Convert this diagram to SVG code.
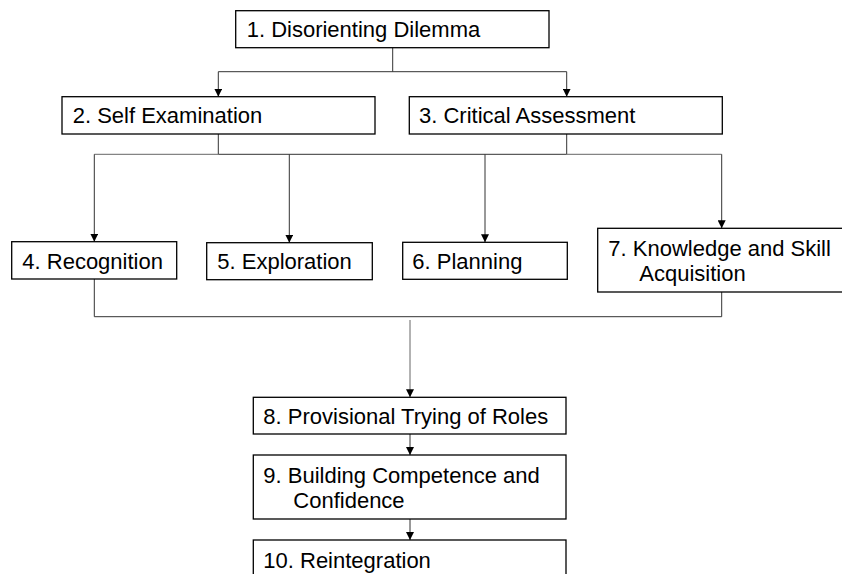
<svg xmlns="http://www.w3.org/2000/svg" width="842" height="574" viewBox="0 0 842 574">
<style>
.box{fill:#fff;stroke:#000;stroke-width:1.3}
.t{font-family:"Liberation Sans",Arial,sans-serif;font-size:22px;fill:#000}
.c{fill:none;stroke:#333;stroke-width:1}
.g{fill:none;stroke:#666;stroke-width:1}
</style>
<defs>
<marker id="ah" viewBox="0 0 10 10" refX="10" refY="5" markerWidth="8" markerHeight="8" markerUnits="userSpaceOnUse" orient="auto">
<path d="M0,0 L10,5 L0,10 Z" fill="#000"/>
</marker>
</defs>
<g id="connectors">
<path class="c" d="M392.7,47.7 V71.7 M218.3,71.7 H566.7"/>
<path class="c" d="M218.3,71.7 V96.7" marker-end="url(#ah)"/>
<path class="c" d="M566.7,71.7 V96.7" marker-end="url(#ah)"/>
<path class="c" d="M218.3,134 V154.3 H566.7 V134"/>
<path class="g" d="M94.3,154.3 H218.3 M566.7,154.3 H721.7"/>
<path class="c" d="M94.3,154.3 V241.7" marker-end="url(#ah)"/>
<path class="c" d="M289.3,154.3 V242.7" marker-end="url(#ah)"/>
<path class="c" d="M485,154.3 V242.3" marker-end="url(#ah)"/>
<path class="c" d="M721.7,154.3 V228.3" marker-end="url(#ah)"/>
<path class="c" d="M94.3,279 V316.7 H721.7 V292"/>
<path class="g" d="M410,320 V397.3" marker-end="url(#ah)"/>
<path class="c" d="M410,434 V455" marker-end="url(#ah)"/>
<path class="c" d="M410,519 V540" marker-end="url(#ah)"/>
</g>
<g id="n1"><rect class="box" x="235.7" y="10.7" width="313.3" height="37"/><text class="t" x="246.7" y="36.7">1. Disorienting Dilemma</text></g>
<g id="n2"><rect class="box" x="62" y="96.7" width="313" height="37.3"/><text class="t" x="72.7" y="123.3">2. Self Examination</text></g>
<g id="n3"><rect class="box" x="409.3" y="96.7" width="313" height="37.3"/><text class="t" x="419" y="123.3">3. Critical Assessment</text></g>
<g id="n4"><rect class="box" x="11.7" y="241.7" width="165" height="37.3"/><text class="t" x="22.3" y="269">4. Recognition</text></g>
<g id="n5"><rect class="box" x="206.7" y="242.7" width="165.6" height="37"/><text class="t" x="217.3" y="269">5. Exploration</text></g>
<g id="n6"><rect class="box" x="402.7" y="242.3" width="164.6" height="37"/><text class="t" x="412.3" y="269">6. Planning</text></g>
<g id="n7"><rect class="box" x="597.7" y="228.3" width="313" height="63.7"/><text class="t" x="608.3" y="255.7">7. Knowledge and Skill</text><text class="t" x="639.3" y="281">Acquisition</text></g>
<g id="n8"><rect class="box" x="253.3" y="397.3" width="312.7" height="36.7"/><text class="t" x="263.3" y="424">8. Provisional Trying of Roles</text></g>
<g id="n9"><rect class="box" x="253.3" y="455" width="312.7" height="64"/><text class="t" x="263.3" y="483.3">9. Building Competence and</text><text class="t" x="293.3" y="507.7">Confidence</text></g>
<g id="n10"><rect class="box" x="253.3" y="540" width="312.7" height="50"/><text class="t" x="263.3" y="568.3">10. Reintegration</text></g>
</svg>
